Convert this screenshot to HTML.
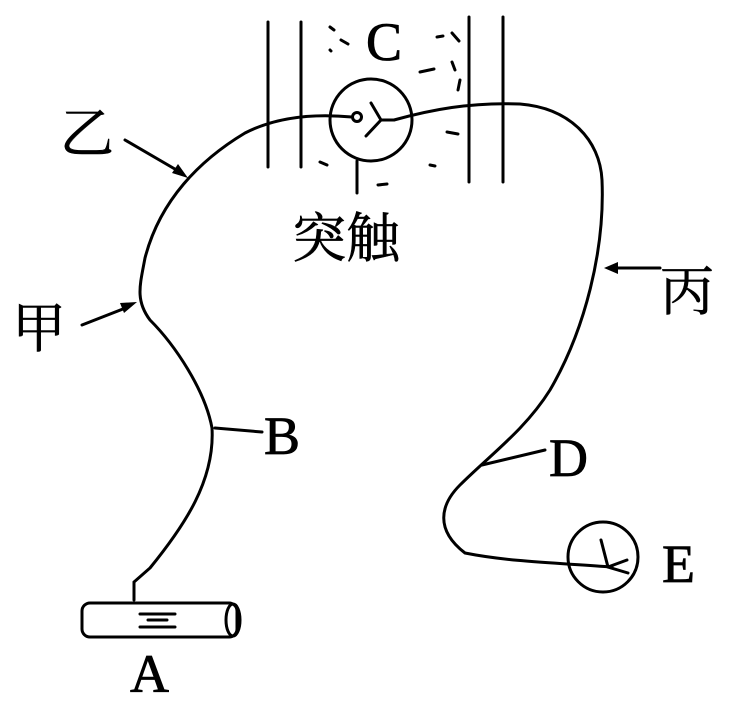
<!DOCTYPE html>
<html><head><style>body{margin:0;background:#fff}</style></head><body>
<svg width="743" height="701" viewBox="0 0 743 701" xmlns="http://www.w3.org/2000/svg" style="display:block">
<g stroke="#000" stroke-width="3" fill="none" stroke-linecap="round">
<line x1="268" y1="22" x2="268" y2="167"/><line x1="301" y1="22" x2="301" y2="167"/>
<line x1="469" y1="17" x2="469" y2="182"/><line x1="503" y1="17" x2="503" y2="182"/>
<circle cx="371" cy="120" r="41"/>
<circle cx="357" cy="117" r="4.5"/>
<path d="M371 103 L381 120 L366 136 M381 120 L394 120"/>
<line x1="357" y1="161" x2="357" y2="193"/>
<path d="M134 600 L134 582 L150 568 C185 525 215 480 212 428 C205 390 175 345 150 320 C135 300 140 285 145 258 C160 200 200 160 245 133 C280 115 320 114 352 117"/>
<path d="M394 120 C430 110 470 102 520 104 C570 108 600 140 602 180 C605 250 585 330 550 390 C525 430 490 455 460 485 C440 505 435 530 465 553 C510 562 560 563 612 567"/>
<circle cx="603" cy="557" r="35"/>
<path d="M601 540 L608 567 L628 573 M608 567 L627 560"/>
<path d="M215 428 L262 432 M482 465 L545 450"/>
<path d="M125 140 L180 172 M82 325 L128 307 M660 268 L612 268"/>
<rect x="82" y="603" width="155" height="34" rx="8"/>
<ellipse cx="233" cy="620" rx="7" ry="16"/>
<path d="M140 614 L175 614 M148 620 L167 620 M140 627 L175 627"/>
<path d="M330 27 l4 3 M341 40 l7 4 M330 50 l1 1 M437 37 l6 -1 M452 33 l7 8 M420 72 l14 -3 M452 62 l3 8 M460 80 l-2 10 M447 132 l11 2 M320 162 l7 3 M430 165 l5 1 M378 185 l9 -1"/>
</g>
<g fill="#000">
<path d="M188 178 L172 173 L178 164 Z"/>
<path d="M137 302 L124 313 L120 303 Z"/>
<path d="M604 268 L618 262 L618 274 Z"/>
</g>
<g font-family="Liberation Serif, serif" font-size="54" fill="#000" stroke="#000" stroke-width="0.8">
<text x="366" y="60">C</text>
<text x="264" y="454">B</text>
<text x="549" y="476">D</text>
<text x="662" y="582">E</text>
<text x="130" y="692">A</text>
</g>
<g font-family="'Liberation Serif','Noto Serif CJK SC',serif" font-size="54" fill="#000" stroke="#000" stroke-width="0.6">
<text x="60" y="152">乙</text>
<text x="12" y="347">甲</text>
<text x="660" y="310">丙</text>
<text x="292" y="257">突触</text>
</g>
</svg>
</body></html>
